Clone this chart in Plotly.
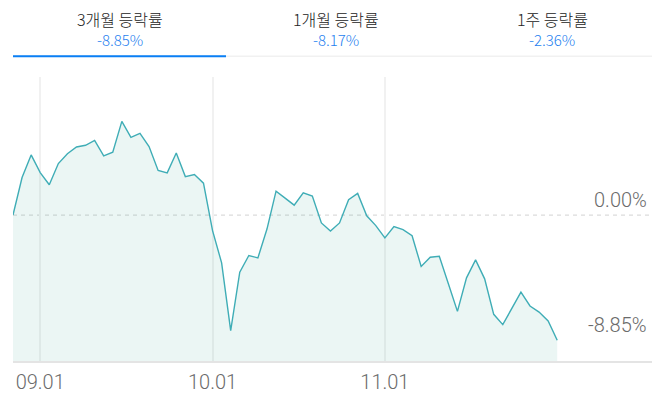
import plotly.graph_objects as go

# ---- data ----
x_index = list(range(61))
returns_pct = [0, 2.65, 4.25, 3.0, 2.14, 3.64, 4.34, 4.81, 4.93, 5.28,
               4.18, 4.44, 6.62, 5.49, 5.77, 4.84, 3.15, 2.98, 4.39, 2.72,
               2.87, 2.25, -1.10, -3.38, -8.17, -4.04, -2.86, -3.03, -0.99, 1.69,
               1.20, 0.70, 1.57, 1.34, -0.56, -1.13, -0.56, 1.08, 1.53, -0.05,
               -0.75, -1.62, -0.82, -1.03, -1.46, -3.64, -2.98, -2.91, -4.86, -6.81,
               -4.44, -3.17, -4.51, -7.02, -7.75, -6.60, -5.45, -6.43, -6.86, -7.49,
               -8.85]
tick_positions = [3, 22, 41]
tick_labels = ["09.01", "10.01", "11.01"]
tab_titles = ["3개월 등락률", "1개월 등락률", "1주 등락률"]
tab_values = ["-8.85%", "-8.17%", "-2.36%"]
ref_levels = [0.0, -8.85]
ref_labels = ["0.00%", "-8.85%"]

OFF = 8  # page body margin
W, H = 656, 391
L, R, T, B = 13 - OFF, 652 - OFF, 77 - OFF, 363 - OFF
Y_MIN, Y_MAX = -10.32, 9.76
X_MAX = 70.45

def xp(px):
    return (px - OFF - L) / (R - L)

def yp(py):
    return (B - (py - OFF)) / (B - T)

LINE = "#3fadb6"
fig = go.Figure()
fig.add_trace(go.Scatter(x=x_index, y=[Y_MIN] * len(x_index), mode="lines",
                         line=dict(width=0), hoverinfo="skip", showlegend=False))
fig.add_trace(go.Scatter(x=x_index, y=returns_pct, mode="lines",
                         line=dict(color=LINE, width=1.4),
                         fill="tonexty", fillcolor="rgba(60,170,150,0.10)",
                         showlegend=False))

shapes = [
    dict(type="line", xref="paper", yref="y", x0=0, x1=xp(650), y0=0, y1=0,
         line=dict(color="#dcdcdc", width=1.3, dash="4px,4px"), layer="below"),
    dict(type="line", xref="paper", yref="paper", x0=0, x1=1, y0=yp(56), y1=yp(56),
         line=dict(color="#eaeaea", width=1)),
    dict(type="line", xref="paper", yref="paper", x0=0, x1=xp(226), y0=yp(56), y1=yp(56),
         line=dict(color="#0a7ff5", width=2)),
]

annotations = []
tab_centers = [120, 336, 552]
for cx, t, v in zip(tab_centers, tab_titles, tab_values):
    annotations.append(dict(x=xp(cx), y=yp(19), xref="paper", yref="paper", text=t,
                            showarrow=False, xanchor="center", yanchor="middle",
                            font=dict(family="Noto Sans CJK KR", size=16, color="#222222",
                                      weight=300)))
    annotations.append(dict(x=xp(cx), y=yp(39), xref="paper", yref="paper", text=v,
                            showarrow=False, xanchor="center", yanchor="middle",
                            font=dict(family="Noto Sans CJK KR", size=15, color="#1f7fef",
                                      weight=300)))
for lv, lb in zip(ref_levels, ref_labels):
    annotations.append(dict(x=xp(649), y=lv, xref="paper", yref="y", text=lb,
                            showarrow=False, xanchor="right", yanchor="bottom", yshift=1,
                            font=dict(family="Roboto", size=20, color="#6b6b6b", weight=300)))

fig.update_layout(
    width=W, height=H,
    margin=dict(l=L, r=W - R, t=T, b=H - B),
    paper_bgcolor="white", plot_bgcolor="white",
    shapes=shapes, annotations=annotations,
    xaxis=dict(range=[0, X_MAX], tickmode="array", tickvals=tick_positions,
               ticktext=tick_labels, showgrid=True, gridcolor="#f1f1f1", gridwidth=1.5,
               zeroline=False, showline=True, linecolor="#e4e4e4", linewidth=2,
               ticks="", ticklabelstandoff=2,
               tickfont=dict(family="Roboto", size=20, color="#6b6b6b", weight=300)),
    yaxis=dict(range=[Y_MIN, Y_MAX], showgrid=False, zeroline=False,
               showticklabels=False, ticks=""),
    hovermode=False,
)

fig.write_html("out.html")
